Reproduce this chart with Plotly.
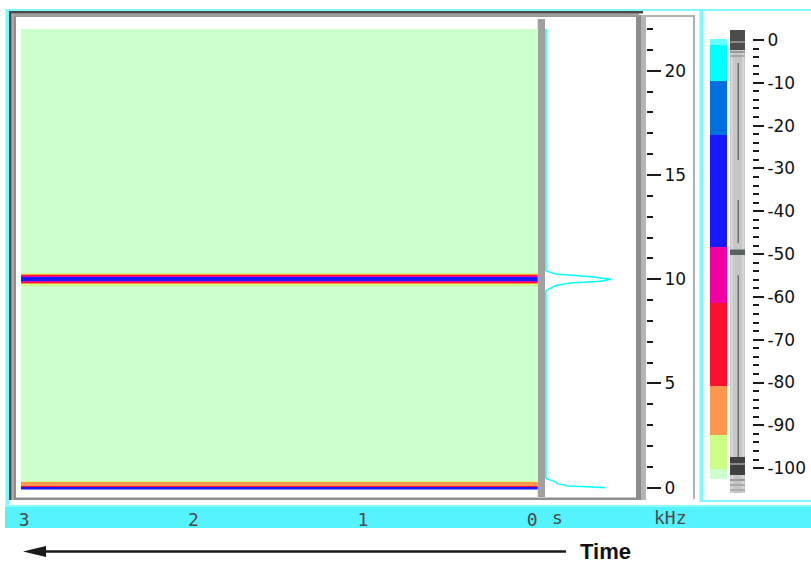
import plotly.graph_objects as go

W, H = 811, 563


def X(px):
    return px / W


def Y(py):
    return 1 - py / H


# ---------------- data ----------------
time_ticks = [3, 2, 1, 0]
time_tick_text = ["3", "2", "1", "0"]
time_edges = [-0.032, 3.018]          # spectrogram window (s), newest at right

freq_ticks = [0, 5, 10, 15, 20]
freq_tick_text = ["0", "5", "10", "15", "20"]
freq_minor = list(range(0, 23))

# spectrogram rows: frequency bin edges (kHz) and level (dB) of each row
freq_edges = [-0.086, 0.04, 0.085, 0.29, 0.33, 9.69, 9.75, 9.81, 9.86, 9.90,
              10.10, 10.14, 10.19, 10.25, 10.31, 22.0]
row_levels = [-35, -70, -85, -96, -102, -96, -85, -70, -55, -35,
              -55, -70, -85, -96, -102]

# current spectrum (kHz, dB)
spec_freq = [22.0, 10.40, 10.35, 10.25, 10.12, 10.0, 9.90, 9.82, 9.70, 9.50, 9.45,
             0.46, 0.42, 0.29, 0.172, 0.129, 0.086, 0.043, 0.0]
spec_db = [-100, -100, -96.6, -89, -50.5, -28.6, -40.6, -73.5, -89, -98.8, -100,
           -100, -98.8, -90, -86, -79, -77, -54, -35]

# colour scale (dB band edges and colours)
cbar_edges_db = [-102.6, -100.2, -92.2, -80.7, -61.4, -48.4, -22.3, -9.6, -1.2, 0.23]
cbar_colors = ["#CCFFCC", "#CCFF88", "#FF9650", "#FF1030", "#F000A0",
               "#1818FF", "#0070E0", "#00FFFF", "#66FFFF"]
db_ticks = [0, -10, -20, -30, -40, -50, -60, -70, -80, -90, -100]
db_tick_text = ["0", "-10", "-20", "-30", "-40", "-50", "-60", "-70", "-80", "-90", "-100"]
db_minor = list(range(-100, 1, 2))

# ---------------- colour scale ----------------
zmin, zmax = cbar_edges_db[0], cbar_edges_db[-1]
colorscale = []
for i, c in enumerate(cbar_colors):
    a = (cbar_edges_db[i] - zmin) / (zmax - zmin)
    b = (cbar_edges_db[i + 1] - zmin) / (zmax - zmin)
    colorscale += [[a, c], [b, c]]
colorscale[0][0] = 0.0
colorscale[-1][0] = 1.0

fig = go.Figure()

# spectrogram
fig.add_trace(go.Heatmap(
    x=time_edges, y=freq_edges, z=[[lv] for lv in row_levels],
    colorscale=colorscale, zmin=zmin, zmax=zmax, showscale=False,
    xaxis="x", yaxis="y", hoverinfo="skip", zsmooth=False))

# spectrum
fig.add_trace(go.Scatter(
    x=spec_db, y=spec_freq, mode="lines",
    line=dict(color="#00FFFF", width=1.5),
    xaxis="x4", yaxis="y", hoverinfo="skip"))

# colour bar
cbar_mid = [(cbar_edges_db[i] + cbar_edges_db[i + 1]) / 2 for i in range(len(cbar_colors))]
fig.add_trace(go.Heatmap(
    x=[0, 1], y=cbar_edges_db, z=[[m] for m in cbar_mid],
    colorscale=colorscale, zmin=zmin, zmax=zmax, showscale=False,
    xaxis="x5", yaxis="y5", hoverinfo="skip", zsmooth=False))

# ---------------- decorations ----------------
shapes = []


def rect(x0, y0, x1, y1, fill, layer="below"):
    shapes.append(dict(type="rect", xref="paper", yref="paper",
                       x0=X(x0), x1=X(x1), y0=Y(y1), y1=Y(y0),
                       fillcolor=fill, line=dict(width=0), layer=layer))


# cyan frame
rect(5, 505, 811, 528, "#55F4FC")
rect(5, 505, 811, 507, "#8AFBFF")
rect(5, 9, 811, 11, "#80F8FF")
rect(5.5, 9, 9, 505, "#80F8FF")
rect(699.5, 9, 703, 502, "#80F8FF")
rect(700, 500, 811, 502, "#80F8FF")

# main sunken panel
rect(9, 11, 639, 500, "#8E8E8E")
rect(9, 11, 643, 13.5, "#4A4A4A")
rect(9, 11, 11.5, 500, "#4A4A4A")
rect(11.5, 13.5, 639, 16.5, "#A0A0A0")
rect(11.5, 13.5, 14, 500, "#A8A8A8")
rect(16, 17, 636, 497.5, "#FFFFFF")

# frequency axis strip
rect(639, 15, 646, 500, "#B4B4B4")
rect(639, 15, 641, 500, "#8C8C8C")
rect(646, 15, 695, 17, "#B0B0B0")
rect(693, 15, 695, 499, "#B0B0B0")

# cursor bar
rect(537.7, 19, 545, 497, "#A0A0A0")

# level slider
rect(730, 30, 745, 493, "#C6C6C6")
rect(731, 30, 733, 493, "#D6D6D6")
rect(742, 30, 744, 493, "#D6D6D6")
rect(737.5, 63, 739, 160, "#707070")
rect(737.5, 200, 739, 243, "#707070")
rect(737.5, 275, 739, 457, "#707070")
rect(730, 30, 745, 50, "#4C4C4C")
rect(730, 41, 745, 43, "#8A8A8A")
rect(730, 51, 745, 53, "#9A9A9A")
rect(730, 55, 745, 57, "#A8A8A8")
rect(730, 249.5, 745, 255, "#5A625E")
rect(730, 457, 745, 475, "#404040")
rect(730, 463, 745, 465, "#8A8A8A")
rect(730, 479, 745, 481, "#9A9A9A")
rect(730, 484, 745, 486, "#A8A8A8")
rect(730, 489, 745, 491, "#B0B0B0")

# time arrow
shapes.append(dict(type="line", xref="paper", yref="paper",
                   x0=X(44), x1=X(566), y0=Y(551.5), y1=Y(551.5),
                   line=dict(color="#1A1A1A", width=2.5)))
shapes.append(dict(type="path", xref="paper", yref="paper",
                   path=f"M {X(23)},{Y(551.5)} L {X(46)},{Y(546)} L {X(46)},{Y(557)} Z",
                   fillcolor="#1A1A1A", line=dict(width=0)))

annotations = [
    dict(text="s", x=X(557), y=Y(517), xref="paper", yref="paper", showarrow=False,
         font=dict(family="DejaVu Sans Mono", size=18, color="#4A4A4A"),
         xanchor="center", yanchor="middle"),
    dict(text="kHz", x=X(670), y=Y(517), xref="paper", yref="paper", showarrow=False,
         font=dict(family="DejaVu Sans Mono", size=18, color="#4A4A4A"),
         xanchor="center", yanchor="middle"),
    dict(text="<b>Time</b>", x=X(605.5), y=Y(551.5), xref="paper", yref="paper",
         showarrow=False, font=dict(family="Liberation Sans", size=22, color="#111111"),
         xanchor="center", yanchor="middle"),
]

tickfont = dict(family="DejaVu Sans", size=17, color="#111111")

fig.update_layout(
    template="none",
    width=W, height=H, margin=dict(l=0, r=0, t=0, b=0, pad=0), autosize=False,
    paper_bgcolor="white", plot_bgcolor="rgba(0,0,0,0)",
    showlegend=False, hovermode=False,
    shapes=shapes, annotations=annotations,
    xaxis=dict(domain=[X(21), X(537.7)], range=[3.018, -0.032], automargin=False,
               anchor="free", position=Y(507),
               tickmode="array", tickvals=time_ticks, ticktext=time_tick_text,
               ticks="", showgrid=False, zeroline=False, showline=False,
               tickfont=dict(family="DejaVu Sans Mono", size=18, color="#4A4A4A")),
    yaxis=dict(domain=[Y(489.5), Y(29)], range=[-0.086, 22.0], automargin=False,
               anchor="free", position=X(646), side="right",
               tickmode="array", tickvals=freq_ticks, ticktext=freq_tick_text,
               ticks="outside", ticklen=14, tickwidth=2, tickcolor="#1A1A1A",
               minor=dict(tickmode="array", tickvals=freq_minor, ticks="outside",
                          ticklen=6, tickwidth=2, tickcolor="#1A1A1A", showgrid=False),
               showgrid=False, zeroline=False, showline=False, tickfont=tickfont),
    xaxis4=dict(domain=[X(545), X(637)], range=[-101, 0], anchor="y", visible=False,
                automargin=False),
    xaxis5=dict(domain=[X(710), X(727)], range=[0, 1], anchor="y5", visible=False,
                automargin=False),
    yaxis5=dict(domain=[Y(479.3), Y(39)], range=[zmin, zmax], automargin=False,
                anchor="free", position=X(752), side="right",
                tickmode="array", tickvals=db_ticks, ticktext=db_tick_text,
                ticks="outside", ticklen=11, tickwidth=2, tickcolor="#1A1A1A",
                minor=dict(tickmode="array", tickvals=db_minor, ticks="outside",
                           ticklen=6, tickwidth=2, tickcolor="#1A1A1A", showgrid=False),
                showgrid=False, zeroline=False, showline=False, tickfont=tickfont),
)

page_fix = (
    "document.documentElement.style.margin='0';"
    "document.documentElement.style.overflow='hidden';"
    "document.body.style.margin='0';"
    "document.body.style.overflow='hidden';"
)

fig.write_html(
    "out.html",
    config={"displayModeBar": False, "responsive": False},
    post_script=page_fix,
)
